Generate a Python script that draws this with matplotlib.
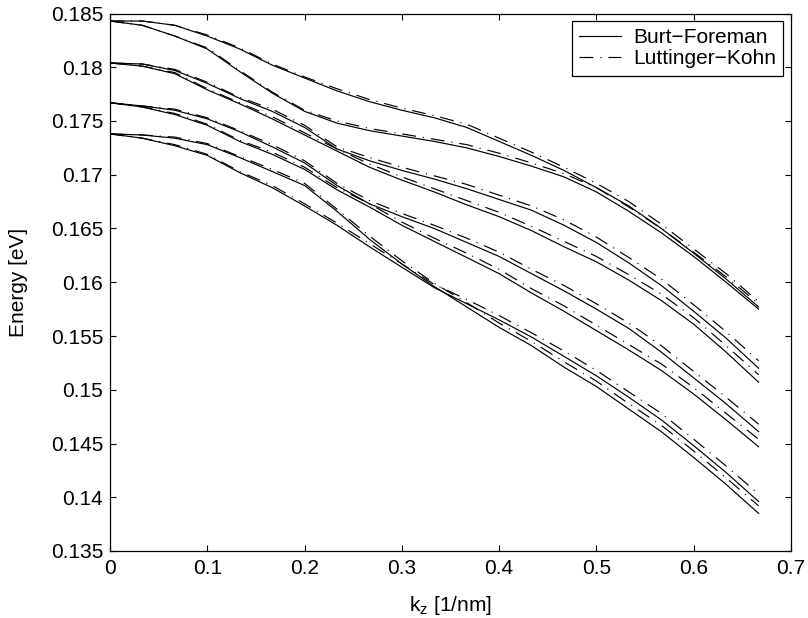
import matplotlib
matplotlib.use("Agg")
import matplotlib.pyplot as plt


OUTPUT_PNG = "out.png"

# wave vector samples [1/nm]
K_Z = [0.0, 0.0333, 0.0667, 0.1, 0.1333, 0.1667, 0.2, 0.2333, 0.2667, 0.3, 0.3333,
       0.3667, 0.4, 0.4333, 0.4667, 0.5, 0.5333, 0.5667, 0.6, 0.6333, 0.6667]

# Burt-Foreman subbands [eV]
BF_1 = [0.1843, 0.1843, 0.1839, 0.1829, 0.1817, 0.1802, 0.1790, 0.1778, 0.1768, 0.1760, 0.1753,
        0.1744, 0.1731, 0.1718, 0.1704, 0.1688, 0.1671, 0.1650, 0.1627, 0.1603, 0.1577]
BF_2 = [0.1843, 0.1839, 0.1829, 0.1817, 0.1796, 0.1776, 0.1759, 0.1748, 0.1741, 0.1736, 0.1731,
        0.1725, 0.1717, 0.1708, 0.1698, 0.1684, 0.1666, 0.1646, 0.1624, 0.1600, 0.1575]
BF_3 = [0.1804, 0.1803, 0.1797, 0.1785, 0.1771, 0.1759, 0.1744, 0.1724, 0.1713, 0.1704, 0.1696,
        0.1687, 0.1677, 0.1667, 0.1653, 0.1637, 0.1618, 0.1597, 0.1573, 0.1548, 0.1520]
BF_4 = [0.1804, 0.1801, 0.1794, 0.1779, 0.1766, 0.1752, 0.1737, 0.1722, 0.1707, 0.1695, 0.1684,
        0.1672, 0.1661, 0.1648, 0.1633, 0.1619, 0.1602, 0.1583, 0.1561, 0.1535, 0.1507]
BF_5 = [0.1767, 0.1764, 0.1760, 0.1752, 0.1740, 0.1726, 0.1711, 0.1690, 0.1673, 0.1661, 0.1650,
        0.1637, 0.1624, 0.1608, 0.1592, 0.1575, 0.1557, 0.1535, 0.1511, 0.1487, 0.1461]
BF_6 = [0.1767, 0.1763, 0.1756, 0.1746, 0.1731, 0.1719, 0.1705, 0.1686, 0.1670, 0.1653, 0.1638,
        0.1623, 0.1608, 0.1590, 0.1573, 0.1555, 0.1537, 0.1518, 0.1496, 0.1472, 0.1447]
BF_7 = [0.1738, 0.1737, 0.1734, 0.1728, 0.1716, 0.1703, 0.1690, 0.1666, 0.1640, 0.1617, 0.1596,
        0.1577, 0.1558, 0.1541, 0.1521, 0.1503, 0.1482, 0.1461, 0.1437, 0.1412, 0.1385]
BF_8 = [0.1738, 0.1734, 0.1727, 0.1718, 0.1702, 0.1688, 0.1671, 0.1653, 0.1633, 0.1614, 0.1595,
        0.1580, 0.1565, 0.1549, 0.1531, 0.1513, 0.1493, 0.1472, 0.1448, 0.1423, 0.1396]

# Luttinger-Kohn subbands [eV]
LK_1 = [0.1843, 0.1843, 0.1839, 0.1830, 0.1818, 0.1803, 0.1791, 0.1780, 0.1770, 0.1762, 0.1755,
        0.1747, 0.1734, 0.1721, 0.1707, 0.1692, 0.1675, 0.1654, 0.1631, 0.1608, 0.1582]
LK_2 = [0.1843, 0.1839, 0.1829, 0.1818, 0.1797, 0.1777, 0.1760, 0.1750, 0.1743, 0.1738, 0.1733,
        0.1728, 0.1720, 0.1711, 0.1701, 0.1688, 0.1670, 0.1650, 0.1628, 0.1605, 0.1580]
LK_3 = [0.1804, 0.1803, 0.1798, 0.1786, 0.1772, 0.1761, 0.1746, 0.1726, 0.1716, 0.1707, 0.1699,
        0.1691, 0.1681, 0.1671, 0.1658, 0.1642, 0.1623, 0.1603, 0.1579, 0.1554, 0.1527]
LK_4 = [0.1804, 0.1801, 0.1795, 0.1780, 0.1767, 0.1754, 0.1739, 0.1724, 0.1710, 0.1698, 0.1687,
        0.1676, 0.1665, 0.1652, 0.1638, 0.1624, 0.1607, 0.1589, 0.1567, 0.1541, 0.1514]
LK_5 = [0.1767, 0.1764, 0.1761, 0.1753, 0.1741, 0.1728, 0.1713, 0.1692, 0.1676, 0.1664, 0.1653,
        0.1641, 0.1628, 0.1612, 0.1597, 0.1580, 0.1562, 0.1541, 0.1517, 0.1493, 0.1468]
LK_6 = [0.1767, 0.1763, 0.1757, 0.1747, 0.1732, 0.1721, 0.1707, 0.1688, 0.1673, 0.1656, 0.1641,
        0.1627, 0.1612, 0.1594, 0.1578, 0.1560, 0.1542, 0.1524, 0.1502, 0.1478, 0.1454]
LK_7 = [0.1738, 0.1737, 0.1735, 0.1729, 0.1717, 0.1705, 0.1692, 0.1668, 0.1643, 0.1620, 0.1599,
        0.1581, 0.1562, 0.1545, 0.1526, 0.1508, 0.1487, 0.1467, 0.1443, 0.1418, 0.1392]
LK_8 = [0.1738, 0.1734, 0.1728, 0.1719, 0.1703, 0.1690, 0.1673, 0.1655, 0.1636, 0.1617, 0.1598,
        0.1584, 0.1569, 0.1553, 0.1536, 0.1518, 0.1498, 0.1478, 0.1454, 0.1429, 0.1403]

BF_BANDS = [BF_1, BF_2, BF_3, BF_4, BF_5, BF_6, BF_7, BF_8]
LK_BANDS = [LK_1, LK_2, LK_3, LK_4, LK_5, LK_6, LK_7, LK_8]

X_TICKS = [0, 0.1, 0.2, 0.3, 0.4, 0.5, 0.6, 0.7]
X_TICK_LABELS = ["0", "0.1", "0.2", "0.3", "0.4", "0.5", "0.6", "0.7"]
Y_TICKS = [0.135, 0.14, 0.145, 0.15, 0.155, 0.16, 0.165, 0.17, 0.175, 0.18, 0.185]
Y_TICK_LABELS = ["0.135", "0.14", "0.145", "0.15", "0.155", "0.16",
                 "0.165", "0.17", "0.175", "0.18", "0.185"]

plt.rcParams["font.family"] = ["Liberation Sans", "DejaVu Sans"]
plt.rcParams["font.size"] = 15
plt.rcParams["mathtext.fontset"] = "custom"
plt.rcParams["mathtext.rm"] = "Liberation Sans"
plt.rcParams["mathtext.it"] = "Liberation Sans"
plt.rcParams["lines.scale_dashes"] = False

# matlab style '-.' (the dot is barely visible at this size)
DASH_DOT = (0, (10, 5, 0.8, 5))


def style_plot(ax):
    ax.set_xlim(0, 0.7)
    ax.set_ylim(0.135, 0.185)
    ax.set_xticks(X_TICKS)
    ax.set_xticklabels(X_TICK_LABELS)
    ax.set_yticks(Y_TICKS)
    ax.set_yticklabels(Y_TICK_LABELS)
    ax.tick_params(direction="in", length=4.5, width=0.8, top=True, right=True)
    ax.tick_params(axis="x", pad=6)
    ax.tick_params(axis="y", pad=5)
    for spine in ax.spines.values():
        spine.set_linewidth(0.9)
        spine.set_color("black")


def main():
    fig = plt.figure(figsize=(8.08, 6.18), dpi=100)
    fig.set_facecolor("white")
    ax = fig.add_axes([110 / 808, 1 - 551 / 618, 681 / 808, 537.5 / 618])

    for i, band in enumerate(BF_BANDS):
        ax.plot(K_Z, band, color="black", linewidth=0.85,
                label="Burt\u2212Foreman" if i == 0 else None)
    for i, band in enumerate(LK_BANDS):
        ax.plot(K_Z, band, color="black", linewidth=0.85, linestyle=DASH_DOT,
                label="Luttinger\u2212Kohn" if i == 0 else None)

    style_plot(ax)
    ax.set_xlabel(r"k$_\mathrm{z}$ [1/nm]", labelpad=11)
    ax.set_ylabel("Energy [eV]", labelpad=16)

    leg = ax.legend(loc="upper right", bbox_to_anchor=(0.9887, 0.9866), borderaxespad=0,
                    fancybox=False, framealpha=1, edgecolor="black", handlelength=2.0,
                    handletextpad=0.6, borderpad=0.35, labelspacing=0.12)
    leg.get_frame().set_linewidth(0.9)

    fig.savefig(OUTPUT_PNG, dpi=100)
    plt.close(fig)


if __name__ == "__main__":
    main()
